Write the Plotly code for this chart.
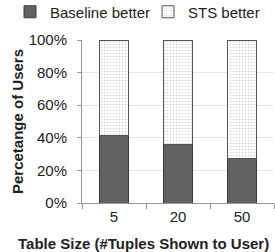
import plotly.graph_objects as go

categories = ["5", "20", "50"]
baseline_better = [41.5, 35.8, 27.2]
sts_better = [58.5, 64.2, 72.8]
y_ticks = [0, 20, 40, 60, 80, 100]
y_tick_labels = ["0%", "20%", "40%", "60%", "80%", "100%"]

fig = go.Figure()
fig.add_trace(go.Bar(
    x=categories, y=baseline_better, name="Baseline better",
    marker=dict(color="#626262", line=dict(color="#3a3a3a", width=1)),
    width=0.45, legend="legend",
))
fig.add_trace(go.Bar(
    x=categories, y=sts_better, name="STS better",
    marker=dict(color="white", line=dict(color="#555555", width=1),
                pattern=dict(shape=".", fgcolor="#a0a0a0", bgcolor="white",
                             size=3, solidity=0.22)),
    width=0.45, legend="legend2",
))

legend_common = dict(orientation="h", xref="container", yref="container",
                     yanchor="middle", y=1 - 12 / 252, xanchor="left",
                     font=dict(size=15), itemwidth=30,
                     bgcolor="rgba(0,0,0,0)", borderwidth=0)

fig.update_layout(
    barmode="stack",
    width=275, height=252,
    margin=dict(l=82, r=1, t=40, b=49, autoexpand=False),
    plot_bgcolor="white", paper_bgcolor="white",
    font=dict(family="Liberation Sans, Arial, sans-serif", size=15, color="#222222"),
    showlegend=True,
    legend=dict(legend_common, x=10 / 275),
    legend2=dict(legend_common, x=148 / 275),
    annotations=[dict(
        text="<b>Table Size (#Tuples Shown to User)</b>",
        xref="paper", yref="paper", x=(143 - 82) / 192, y=(203 - 243) / 163,
        xanchor="center", yanchor="middle", showarrow=False,
        font=dict(size=15),
    )],
)
fig.update_yaxes(
    range=[0, 100], tickvals=y_ticks, ticktext=y_tick_labels,
    showgrid=True, gridcolor="#e6e6e6", gridwidth=1,
    showline=True, linecolor="#999999", linewidth=1,
    ticks="outside", ticklen=4, tickcolor="#999999", ticklabelstandoff=7,
    title=dict(text="<b>Percetange of Users</b>", font=dict(size=15), standoff=1),
    tickfont=dict(size=15), zeroline=False,
)
fig.update_xaxes(
    showline=True, linecolor="#999999", linewidth=1,
    ticks="outside", ticklen=5, tickcolor="#999999", tickson="boundaries",
    tickfont=dict(size=15),
)

fig.write_html("out.html", config=dict(displayModeBar=False),
               post_script="document.body.style.margin='0';document.body.style.overflow='hidden';")
